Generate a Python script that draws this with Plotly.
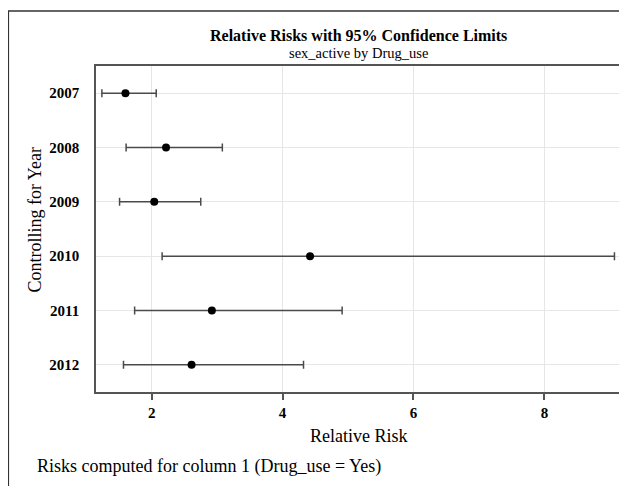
import plotly.graph_objects as go

years = ["2007", "2008", "2009", "2010", "2011", "2012"]
relative_risk = [1.60, 2.22, 2.04, 4.42, 2.92, 2.61]
lower_cl = [1.24, 1.61, 1.51, 2.16, 1.74, 1.57]
upper_cl = [2.07, 3.08, 2.75, 9.07, 4.91, 4.32]
x_ticks = [2, 4, 6, 8]

err_plus = [u - r for u, r in zip(upper_cl, relative_risk)]
err_minus = [r - l for r, l in zip(relative_risk, lower_cl)]

FONT = "Liberation Serif"

fig = go.Figure()
fig.add_trace(go.Scatter(
    x=relative_risk, y=years, mode="markers",
    marker=dict(color="black", size=8),
    error_x=dict(type="data", symmetric=False, array=err_plus, arrayminus=err_minus,
                 color="#4a4a4a", thickness=1.5, width=4),
    showlegend=False,
))

fig.update_layout(
    width=619, height=478,
    margin=dict(l=88, r=4, t=58, b=94),
    paper_bgcolor="white", plot_bgcolor="white",
    font=dict(family=FONT, color="black"),
    xaxis=dict(range=[1.15, 9.17], tickvals=x_ticks, ticktext=[str(t) for t in x_ticks],
               showgrid=True, gridcolor="#e6e6e6", gridwidth=1,
               showline=True, linecolor="#555555", linewidth=1.5, mirror=True,
               ticks="outside", ticklen=6, tickcolor="#555555", tickwidth=1.5,
               tickfont=dict(family=FONT, size=15, color="black", weight="bold"),
               zeroline=False),
    yaxis=dict(type="category", categoryorder="array", categoryarray=years,
               range=[5.5, -0.5],
               showgrid=True, gridcolor="#e6e6e6", gridwidth=1,
               showline=True, linecolor="#555555", linewidth=1.5, mirror=True,
               ticks="", ticklabelstandoff=12,
               tickfont=dict(family=FONT, size=15, color="black", weight="bold")),
)

annotations = [
    dict(text="<b>Relative Risks with 95% Confidence Limits</b>", x=0.5, y=1.095,
         font=dict(size=16)),
    dict(text="sex_active by Drug_use", x=0.5, y=1.04, font=dict(size=14.5)),
    dict(text="Relative Risk", x=0.5, y=-0.135, font=dict(size=18)),
    dict(text="Controlling for Year", x=-0.1157, y=0.53, textangle=-90, font=dict(size=18)),
    dict(text="Risks computed for column 1 (Drug_use = Yes)", x=-0.1157, y=-0.227,
         xanchor="left", font=dict(size=18)),
]
for a in annotations:
    a.setdefault("xanchor", "center")
    a.update(xref="paper", yref="paper", yanchor="middle", showarrow=False)
    a["font"].update(family=FONT, color="black")
    fig.add_annotation(**a)

x0 = (0 - 88) / 527
y1 = (384 - 3) / 326
fig.add_shape(type="path", xref="paper", yref="paper",
              path=f"M {x0},-0.5 L {x0},{y1} L 1.1,{y1}",
              line=dict(color="#333333", width=1.5))

fig.write_html("out.html")
